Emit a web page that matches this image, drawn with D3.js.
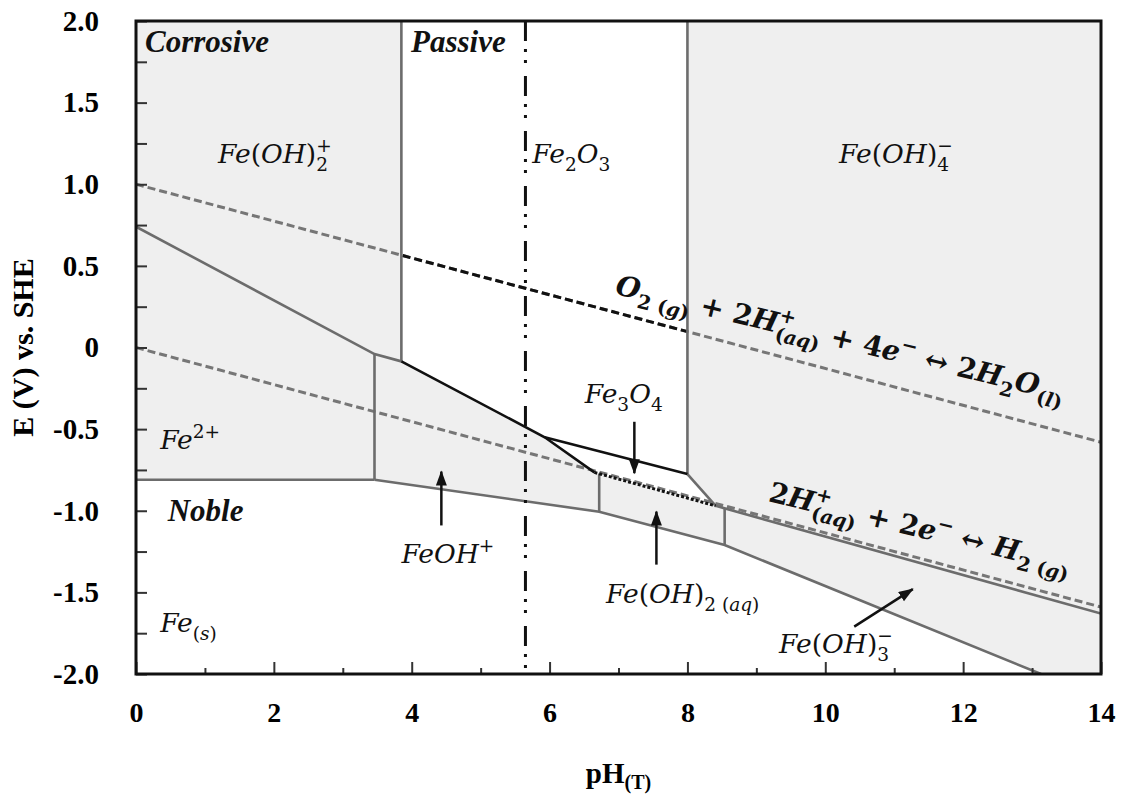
<!DOCTYPE html>
<html>
<head>
<meta charset="utf-8">
<script src="https://cdn.jsdelivr.net/npm/d3@7"></script>
<style>
  body { margin: 0; background: #fff; }
  text { white-space: pre; }
</style>
</head>
<body>
<div id="chart"></div>
<script>
// ---- data (pH, E in V vs SHE) ----
var phMajorTicks = [0, 2, 4, 6, 8, 10, 12, 14];
var phMinorTicks = [1, 3, 5, 7, 9, 11, 13];
var eLabelTicks = [-2, -1.5, -1, -0.5, 0, 0.5, 1, 1.5, 2];
var eMinorTicks = [-1.75, -1.25, -0.75, -0.25, 0.25, 0.75, 1.25, 1.75];

var neutralPH = 5.65;
var passiveFrom = 3.85, passiveTo = 8.0;

// water stability lines
var o2Line = [[0, 1.0], [14, -0.58]];
var h2Line = [[0, 0.0], [14, -1.59]];

// white (non gray) domains
var feSolidArea = [[0, -0.81], [3.46, -0.81], [6.72, -1.006], [8.54, -1.21], [13.13, -2.0], [0, -2.0]];
var passiveArea = [[3.85, 2], [8.0, 2], [8.0, -0.775], [8.41, -0.97], [6.65, -0.765], [5.93, -0.55], [3.85, -0.085]];

// domain boundaries
var grayBounds = [
    [[3.85, 2], [3.85, -0.085]],
    [[8.0, 2], [8.0, -0.775]],
    [[0, 0.74], [3.46, -0.04], [3.85, -0.085]],
    [[0, -0.81], [3.46, -0.81]],
    [[3.46, -0.04], [3.46, -0.81]],
    [[3.46, -0.81], [6.72, -1.006], [8.54, -1.21], [13.13, -2.0]],
    [[6.72, -0.772], [6.72, -1.006]],
    [[8.54, -0.985], [8.54, -1.21]],
    [[8.0, -0.775], [8.41, -0.97]],
    [[8.41, -0.97], [14, -1.63]]
];
var blackBounds = [
    [[3.85, -0.085], [5.93, -0.55], [6.65, -0.765]],
    [[5.93, -0.55], [8.0, -0.775]]
];
var dottedBounds = [
    [[6.65, -0.765], [8.41, -0.97]]
];

// pointer arrows: from -> to
var arrows = [
    [[7.23, -0.455], [7.23, -0.77]],
    [[4.43, -1.09], [4.43, -0.76]],
    [[7.55, -1.33], [7.55, -1.005]],
    [[10.42, -1.71], [11.27, -1.48]]
];

// species labels (left baseline position in pH / E)
var speciesLabels = [
    { text: "Fe(OH)_{2}^{+}", ph: 1.19, e: 1.13 },
    { text: "Fe_{2}O_{3}", ph: 5.75, e: 1.13 },
    { text: "Fe(OH)_{4}^{−}", ph: 10.2, e: 1.13 },
    { text: "Fe^{2+}", ph: 0.35, e: -0.62 },
    { text: "Fe_{(s)}", ph: 0.35, e: -1.74 },
    { text: "FeOH^{+}", ph: 3.85, e: -1.32 },
    { text: "Fe(OH)_{2 (aq)}", ph: 6.82, e: -1.565 },
    { text: "Fe(OH)_{3}^{−}", ph: 9.33, e: -1.87 },
    { text: "Fe_{3}O_{4}", ph: 6.51, e: -0.34 }
];
var zoneLabels = [
    { text: "Corrosive", ph: 0.13, e: 1.81 },
    { text: "Passive", ph: 3.99, e: 1.81 },
    { text: "Noble", ph: 0.46, e: -1.063 }
];
var equations = [
    { text: "O_{2 (g)} + 2H^{+}_{(aq)} + 4e^{−} ↔ 2H_{2}O_{(l)}", ph: 6.94, e: 0.33 },
    { text: "2H^{+}_{(aq)} + 2e^{−} ↔ H_{2 (g)}", ph: 9.16, e: -0.94 }
];

// ---- chart ----
var W = 1123, H = 799;
var x = d3.scaleLinear().domain([0, 14]).range([136, 1101]);
var y = d3.scaleLinear().domain([-2, 2]).range([674, 21]);

var svg = d3.select('#chart').append('svg')
    .attr('width', W)
    .attr('height', H);

var defs = svg.append('defs');
defs.append('clipPath').attr('id', 'plot-clip')
    .append('rect')
    .attr('x', x(0)).attr('y', y(2))
    .attr('width', x(14) - x(0)).attr('height', y(-2) - y(2));
defs.append('clipPath').attr('id', 'passive-clip')
    .append('rect')
    .attr('x', x(passiveFrom)).attr('y', y(2))
    .attr('width', x(passiveTo) - x(passiveFrom)).attr('height', y(-2) - y(2));
defs.append('marker')
    .attr('id', 'arrow')
    .attr('markerUnits', 'userSpaceOnUse')
    .attr('markerWidth', 16).attr('markerHeight', 12)
    .attr('refX', 14).attr('refY', 5.5)
    .attr('orient', 'auto')
    .append('path')
    .attr('d', 'M0,0 L15,5.5 L0,11 Z')
    .attr('fill', '#111');

var line = d3.line()
    .x(function(d) { return x(d[0]); })
    .y(function(d) { return y(d[1]); });

var plot = svg.append('g').attr('clip-path', 'url(#plot-clip)');

plot.append('rect')
    .attr('x', x(0)).attr('y', y(2))
    .attr('width', x(14) - x(0)).attr('height', y(-2) - y(2))
    .attr('fill', '#efefef');

plot.selectAll('.white-area')
    .data([feSolidArea, passiveArea])
    .enter().append('path')
    .attr('class', 'white-area')
    .attr('d', function(d) { return line(d) + 'Z'; })
    .attr('fill', '#fff');

// water lines, gray dashed, darker where they cross the passive domain
plot.selectAll('.water')
    .data([o2Line, h2Line])
    .enter().append('path')
    .attr('class', 'water')
    .attr('d', line)
    .attr('fill', 'none')
    .attr('stroke', '#767676')
    .attr('stroke-width', 3)
    .attr('stroke-dasharray', '8,4');
plot.append('g').attr('clip-path', 'url(#passive-clip)')
    .append('path')
    .attr('d', line(o2Line))
    .attr('fill', 'none')
    .attr('stroke', '#111')
    .attr('stroke-width', 3)
    .attr('stroke-dasharray', '8,4');

plot.selectAll('.gray-bound')
    .data(grayBounds)
    .enter().append('path')
    .attr('class', 'gray-bound')
    .attr('d', line)
    .attr('fill', 'none')
    .attr('stroke', '#6c6c6c')
    .attr('stroke-width', 2.6);

plot.selectAll('.black-bound')
    .data(blackBounds)
    .enter().append('path')
    .attr('class', 'black-bound')
    .attr('d', line)
    .attr('fill', 'none')
    .attr('stroke', '#111')
    .attr('stroke-width', 2.6);

plot.selectAll('.dotted-bound')
    .data(dottedBounds)
    .enter().append('path')
    .attr('class', 'dotted-bound')
    .attr('d', line)
    .attr('fill', 'none')
    .attr('stroke', '#111')
    .attr('stroke-width', 3)
    .attr('stroke-dasharray', '3,2');

plot.append('path')
    .attr('d', line([[neutralPH, 2], [neutralPH, -2]]))
    .attr('stroke', '#111')
    .attr('stroke-width', 3)
    .attr('stroke-dasharray', '20,8,3,8,3,13');

plot.selectAll('.pointer')
    .data(arrows)
    .enter().append('path')
    .attr('class', 'pointer')
    .attr('d', line)
    .attr('stroke', '#111')
    .attr('stroke-width', 2.5)
    .attr('marker-end', 'url(#arrow)');

// math-like text: letters italic, digits and brackets upright,
// _{..} subscript, ^{..} superscript, stacked when adjacent
function parseChem(str) {
    var toks = [], i = 0;
    while (i < str.length) {
        var c = str[i];
        if (c === '_' || c === '^') {
            var j = str.indexOf('}', i);
            toks.push({ type: c === '_' ? 'sub' : 'sup', text: str.slice(i + 2, j) });
            i = j + 1;
        } else {
            var k = i;
            while (k < str.length && str[k] !== '_' && str[k] !== '^') k++;
            toks.push({ type: 'base', text: str.slice(i, k) });
            i = k;
        }
    }
    return toks;
}

function chemText(parent, str, fs, bold) {
    var t = parent.append('text')
        .attr('font-family', 'DejaVu Serif')
        .attr('font-size', fs)
        .attr('font-weight', bold ? 'bold' : 'normal')
        .attr('fill', '#111');
    var shift = 0, pad = 0, last = null;
    parseChem(str).forEach(function(tk) {
        var target = tk.type === 'sub' ? 0.3 * fs : tk.type === 'sup' ? -0.42 * fs : 0;
        var stack = last && last.type !== 'base' && tk.type !== 'base' && last.type !== tk.type && !last.stacked;
        var dx = stack ? -last.width : pad;
        if (!stack) pad = 0;
        var runs = tk.text.match(/[A-Za-z]+|[^A-Za-z]+/g);
        var w = 0;
        runs.forEach(function(r, i) {
            var ts = t.append('tspan').text(r)
                .attr('font-style', /[A-Za-z]/.test(r) ? 'italic' : 'normal')
                .attr('font-size', tk.type === 'base' ? fs : fs * 0.7);
            if (i === 0) {
                ts.attr('dy', target - shift);
                if (dx) ts.attr('dx', dx);
            }
            w += ts.node().getComputedTextLength();
        });
        shift = target;
        if (stack) { pad = Math.max(0, last.width - w); tk.stacked = true; }
        tk.width = w;
        last = tk;
    });
    return t;
}

var labels = svg.append('g');
speciesLabels.forEach(function(d) {
    chemText(labels, d.text, 26.5, false)
        .attr('x', x(d.ph)).attr('y', y(d.e));
});

labels.selectAll('.zone')
    .data(zoneLabels)
    .enter().append('text')
    .attr('class', 'zone')
    .attr('x', function(d) { return x(d.ph); })
    .attr('y', function(d) { return y(d.e); })
    .attr('font-family', 'Liberation Serif')
    .attr('font-size', 31)
    .attr('font-weight', 'bold')
    .attr('font-style', 'italic')
    .attr('fill', '#111')
    .text(function(d) { return d.text; });

equations.forEach(function(d) {
    var g = labels.append('g')
        .attr('transform', 'translate(' + x(d.ph) + ',' + y(d.e) + ') rotate(13.5)');
    chemText(g, d.text, 28, true);
});

// ---- axes ----
var tickAxisY = d3.axisLeft(y)
    .tickValues(eLabelTicks.concat(eMinorTicks))
    .tickSize(-11)
    .tickFormat('');
svg.append('g')
    .attr('transform', 'translate(' + x(0) + ',0)')
    .call(tickAxisY)
    .call(function(g) { g.select('.domain').remove(); })
    .selectAll('line').attr('stroke', '#333').attr('stroke-width', 2);

var labelAxisY = d3.axisLeft(y)
    .tickValues(eLabelTicks)
    .tickSize(0)
    .tickPadding(37)
    .tickFormat(function(d) { return d === 0 ? '0' : (d < 0 ? '-' : '') + Math.abs(d).toFixed(1); });
svg.append('g')
    .attr('transform', 'translate(' + x(0) + ',0)')
    .call(labelAxisY)
    .call(function(g) { g.select('.domain').remove(); })
    .selectAll('text')
    .attr('font-family', 'Liberation Serif')
    .attr('font-size', 29)
    .attr('font-weight', 'bold')
    .attr('fill', '#000');

svg.append('g')
    .attr('transform', 'translate(0,' + y(-2) + ')')
    .call(d3.axisBottom(x).tickValues(phMinorTicks).tickSize(-6).tickFormat(''))
    .call(function(g) { g.select('.domain').remove(); })
    .selectAll('line').attr('stroke', '#333').attr('stroke-width', 2);

svg.append('g')
    .attr('transform', 'translate(0,' + y(-2) + ')')
    .call(d3.axisBottom(x).tickValues(phMajorTicks).tickSize(-12).tickPadding(28))
    .call(function(g) { g.select('.domain').remove(); })
    .call(function(g) {
        g.selectAll('line').attr('stroke', '#333').attr('stroke-width', 2);
        g.selectAll('text')
            .attr('font-family', 'Liberation Serif')
            .attr('font-size', 28)
            .attr('font-weight', 'bold')
            .attr('fill', '#000');
    });

// frame
svg.append('rect')
    .attr('x', x(0)).attr('y', y(2))
    .attr('width', x(14) - x(0)).attr('height', y(-2) - y(2))
    .attr('fill', 'none')
    .attr('stroke', '#111')
    .attr('stroke-width', 3);

// axis titles
svg.append('text')
    .attr('transform', 'translate(33,' + ((y(2) + y(-2)) / 2) + ') rotate(-90)')
    .attr('text-anchor', 'middle')
    .attr('font-family', 'Liberation Serif')
    .attr('font-size', 30)
    .attr('font-weight', 'bold')
    .text('E (V) vs. SHE');

var xt = svg.append('text')
    .attr('x', (x(0) + x(14)) / 2)
    .attr('y', 783)
    .attr('text-anchor', 'middle')
    .attr('font-family', 'Liberation Serif')
    .attr('font-size', 29)
    .attr('font-weight', 'bold');
xt.append('tspan').text('pH');
xt.append('tspan').attr('font-size', 20).attr('dy', 6).text('(T)');
</script>
</body>
</html>
